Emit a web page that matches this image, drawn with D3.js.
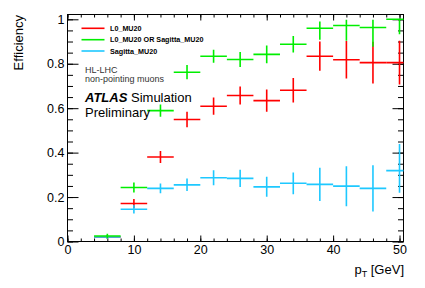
<!DOCTYPE html>
<html>
<head>
<meta charset="utf-8">
<script src="https://cdn.jsdelivr.net/npm/d3@7"></script>
<style>
	body { margin: 0; background: #fff; }
	text { font-family: "Liberation Sans", Arial, Helvetica, sans-serif; }
</style>
</head>
<body>
<div id="chartcontainer"></div>
<script>
// bin centres (4 GeV bins)
var binCentres = [6, 10, 14, 18, 22, 26, 30, 34, 38, 42, 46, 50];
var binHalfWidth = 2;

var l0Val   = [0.020, 0.171, 0.380, 0.549, 0.609, 0.657, 0.634, 0.681, 0.834, 0.818, 0.805, 0.805];
var l0ErrLo = [0.008, 0.020, 0.027, 0.035, 0.039, 0.041, 0.050, 0.055, 0.066, 0.084, 0.094, 0.098];
var l0ErrHi = [0.008, 0.020, 0.027, 0.035, 0.039, 0.041, 0.050, 0.055, 0.066, 0.084, 0.094, 0.098];

var orVal   = [0.025, 0.243, 0.589, 0.762, 0.834, 0.819, 0.842, 0.888, 0.960, 0.972, 0.963, 1.000];
var orErrLo = [0.010, 0.023, 0.028, 0.032, 0.029, 0.034, 0.040, 0.037, 0.052, 0.069, 0.086, 0.067];
var orErrHi = [0.010, 0.023, 0.028, 0.032, 0.029, 0.034, 0.040, 0.037, 0.030, 0.026, 0.035, 0.000];

var sagVal   = [0.020, 0.145, 0.239, 0.255, 0.287, 0.284, 0.246, 0.262, 0.257, 0.249, 0.239, 0.319];
var sagErrLo = [0.008, 0.019, 0.022, 0.028, 0.034, 0.039, 0.045, 0.049, 0.075, 0.090, 0.104, 0.100];
var sagErrHi = [0.008, 0.019, 0.022, 0.028, 0.034, 0.039, 0.045, 0.049, 0.075, 0.090, 0.104, 0.120];

var seriesNames = ["L0_MU20", "L0_MU20 OR Sagitta_MU20", "Sagitta_MU20"];
var seriesColours = ["#ff0000", "#00ee00", "#1ec8ff"];

var xTicks = [0, 10, 20, 30, 40, 50];
var yTicks = [0, 0.2, 0.4, 0.6, 0.8, 1];

var w = 425, h = 288;
var padL = 67.5, padR = 403.5, padT = 14.5, padB = 241.5;

var xScale = d3.scaleLinear().domain([0, 50.6]).range([padL, padR]);
var yScale = d3.scaleLinear().domain([0, 1.0216]).range([padB, padT]);

var svg = d3.select("#chartcontainer")
	.append("svg")
	.attr("width", w)
	.attr("height", h);

// clip for the points
svg.append("clipPath").attr("id", "plotclip")
	.append("rect")
	.attr("x", padL).attr("y", padT)
	.attr("width", padR - padL).attr("height", padB - padT);

var xMinor = d3.range(0, 51, 2);
var yMinor = d3.range(0, 1.0001, 0.05);

function cleanAxis(g) {
	g.select(".domain").remove();
	g.selectAll(".tick line").attr("stroke", "#000").attr("stroke-width", 1);
}

// bottom axis
svg.append("g")
	.attr("transform", "translate(0," + padB + ")")
	.call(d3.axisBottom(xScale).tickValues(xMinor).tickSize(-3).tickFormat(""))
	.call(cleanAxis);
svg.append("g")
	.attr("transform", "translate(0," + padB + ")")
	.call(d3.axisBottom(xScale).tickValues(xTicks).tickSize(-6).tickPadding(3.5).tickFormat(d3.format("d")))
	.call(cleanAxis)
	.selectAll("text").attr("font-size", "12.5px").attr("fill", "#000");

// top axis
svg.append("g")
	.attr("transform", "translate(0," + padT + ")")
	.call(d3.axisTop(xScale).tickValues(xMinor).tickSize(-3).tickFormat(""))
	.call(cleanAxis);
svg.append("g")
	.attr("transform", "translate(0," + padT + ")")
	.call(d3.axisTop(xScale).tickValues(xTicks).tickSize(-6).tickFormat(""))
	.call(cleanAxis);

// left axis
svg.append("g")
	.attr("transform", "translate(" + padL + ",0)")
	.call(d3.axisLeft(yScale).tickValues(yMinor).tickSize(-5.5).tickFormat(""))
	.call(cleanAxis);
svg.append("g")
	.attr("transform", "translate(" + padL + ",0)")
	.call(d3.axisLeft(yScale).tickValues(yTicks).tickSize(-11).tickPadding(3).tickFormat(function(d) { return d3.format("~g")(d); }))
	.call(cleanAxis)
	.selectAll("text").attr("font-size", "12.5px").attr("fill", "#000");

// right axis
svg.append("g")
	.attr("transform", "translate(" + padR + ",0)")
	.call(d3.axisRight(yScale).tickValues(yMinor).tickSize(-5.5).tickFormat(""))
	.call(cleanAxis);
svg.append("g")
	.attr("transform", "translate(" + padR + ",0)")
	.call(d3.axisRight(yScale).tickValues(yTicks).tickSize(-11).tickFormat(""))
	.call(cleanAxis);

// frame
svg.append("rect")
	.attr("x", padL).attr("y", padT)
	.attr("width", padR - padL).attr("height", padB - padT)
	.attr("fill", "none").attr("stroke", "#000").attr("stroke-width", 1);

// points with error bars
function drawSeries(vals, lo, hi, colour) {
	var data = binCentres.map(function(c, i) {
		return { x: c, y: vals[i], lo: lo[i], hi: hi[i] };
	});
	var g = svg.append("g").attr("clip-path", "url(#plotclip)");
	var pts = g.selectAll("g").data(data).enter().append("g");
	pts.append("line")
		.attr("x1", function(d) { return xScale(d.x - binHalfWidth); })
		.attr("x2", function(d) { return xScale(d.x + binHalfWidth); })
		.attr("y1", function(d) { return yScale(d.y); })
		.attr("y2", function(d) { return yScale(d.y); })
		.attr("stroke", colour).attr("stroke-width", 1.6);
	pts.append("line")
		.attr("x1", function(d) { return xScale(d.x); })
		.attr("x2", function(d) { return xScale(d.x); })
		.attr("y1", function(d) { return yScale(d.y - d.lo); })
		.attr("y2", function(d) { return yScale(d.y + d.hi); })
		.attr("stroke", colour).attr("stroke-width", 1.6);
}

drawSeries(l0Val, l0ErrLo, l0ErrHi, seriesColours[0]);
drawSeries(sagVal, sagErrLo, sagErrHi, seriesColours[2]);
drawSeries(orVal, orErrLo, orErrHi, seriesColours[1]);

// legend
var legend = svg.append("g");
var legY = [28.3, 39.7, 51];
seriesNames.forEach(function(name, i) {
	legend.append("line")
		.attr("x1", 81.5).attr("x2", 104.5)
		.attr("y1", legY[i]).attr("y2", legY[i])
		.attr("stroke", seriesColours[i]).attr("stroke-width", 1.6);
	legend.append("text")
		.attr("x", 110).attr("y", legY[i] + 2.6)
		.attr("font-size", "7.2px").attr("font-weight", "bold")
		.text(name);
});

// labels
svg.append("text").attr("x", 85).attr("y", 72.5)
	.attr("font-size", "9px").attr("fill", "#333").text("HL-LHC");
svg.append("text").attr("x", 85).attr("y", 81.5)
	.attr("font-size", "9px").attr("fill", "#333").text("non-pointing muons");

var atlas = svg.append("text").attr("x", 85).attr("y", 101.7).attr("font-size", "13px");
atlas.append("tspan").attr("font-weight", "bold").attr("font-style", "italic").text("ATLAS");
atlas.append("tspan").text(" Simulation");
svg.append("text").attr("x", 85).attr("y", 116.7).attr("font-size", "13px").text("Preliminary");

// axis titles
svg.append("text")
	.attr("transform", "translate(22.5,15) rotate(-90)")
	.attr("text-anchor", "end")
	.attr("font-size", "13px")
	.text("Efficiency");

var xt = svg.append("text")
	.attr("x", 404).attr("y", 274.3)
	.attr("text-anchor", "end")
	.attr("font-size", "13px");
xt.append("tspan").text("p");
xt.append("tspan").attr("font-size", "9px").attr("dy", 3).text("T");
xt.append("tspan").attr("dy", -3).text(" [GeV]");
</script>
</body>
</html>
